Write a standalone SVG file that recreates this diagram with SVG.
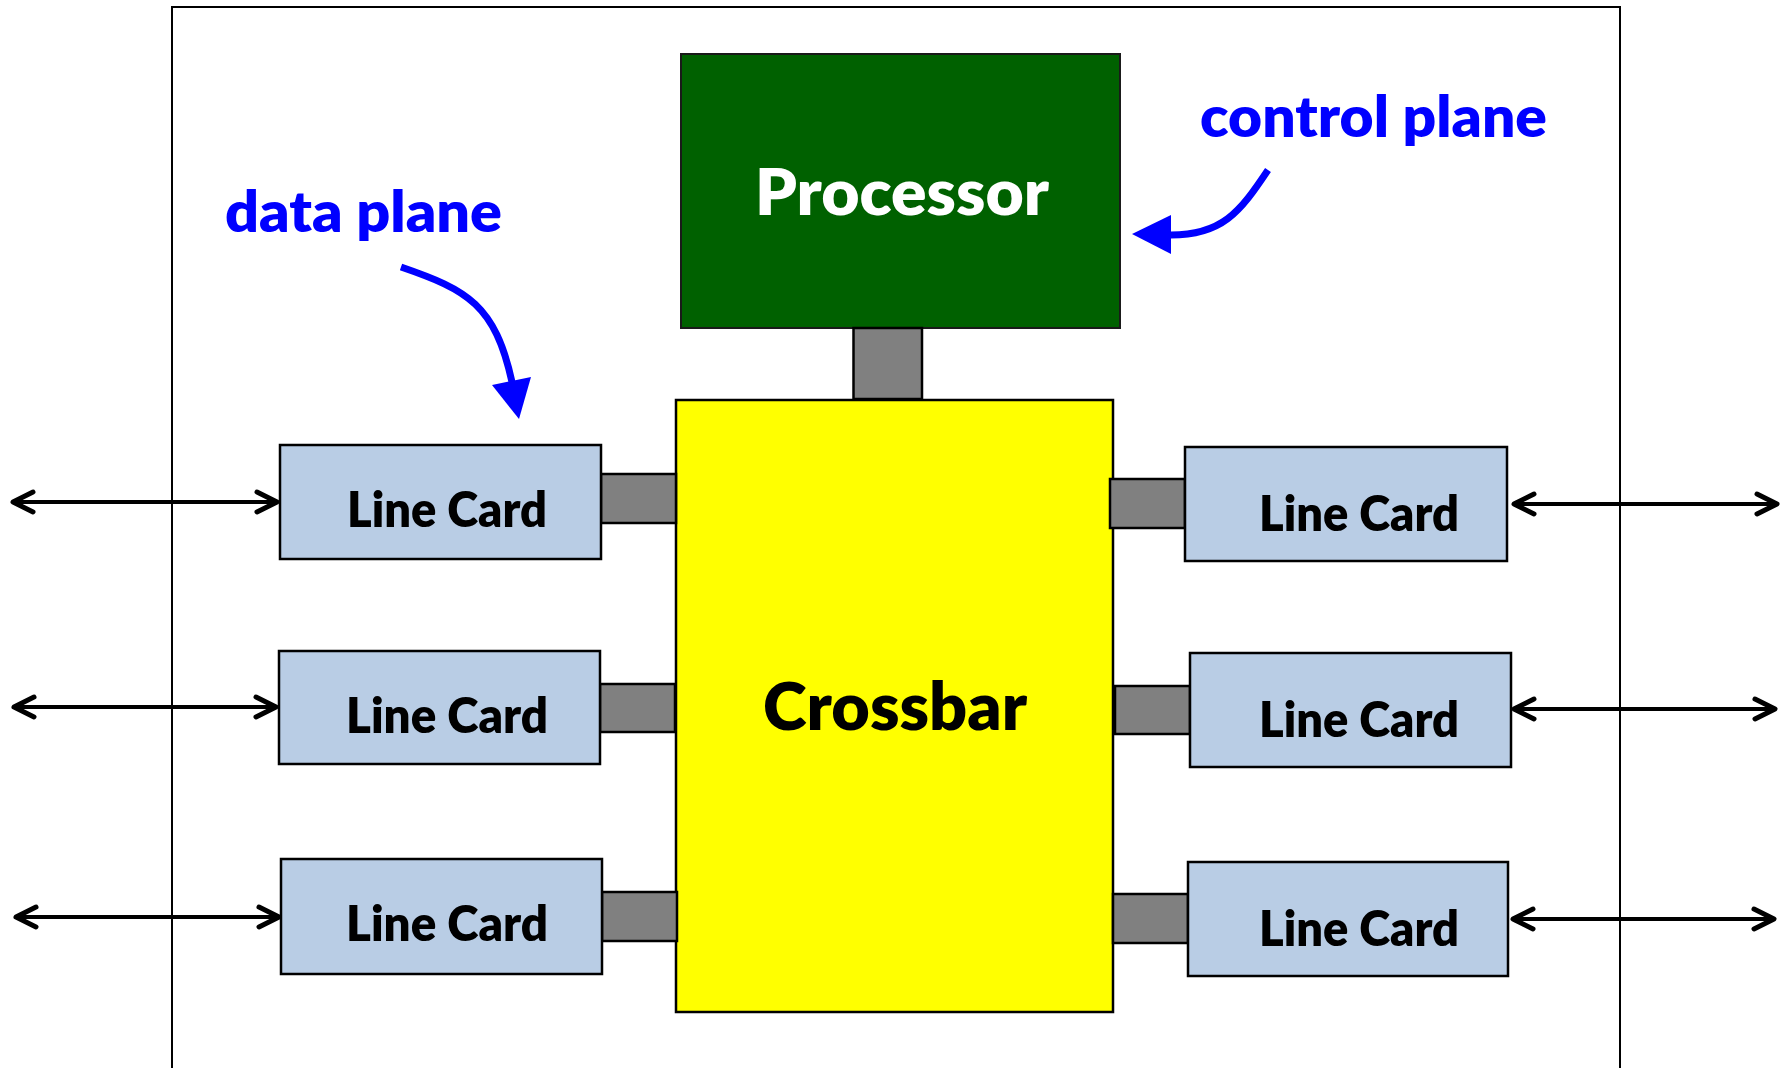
<svg xmlns="http://www.w3.org/2000/svg" width="1789" height="1068" viewBox="0 0 1789 1068">
  <style>
    .frame { fill: none; stroke: #000; stroke-width: 2; }
    .card { fill: #B9CDE5; stroke: #000; stroke-width: 2.5; }
    .link { fill: #808080; stroke: #000; stroke-width: 2.5; }
    .lbl { font-family: Lato, "Open Sans", "Liberation Sans", sans-serif; font-weight: 800; }
    .card-lbl { font-size: 50px; fill: #000; }
    .note { font-size: 57px; fill: #0000FF; }
    .port { stroke: #000; stroke-width: 4; fill: none; marker-start: url(#chev); marker-end: url(#chev); }
    .pointer { stroke: #0000FF; stroke-width: 7; fill: none; }
  </style>
  <defs>
    <marker id="chev" markerUnits="userSpaceOnUse" orient="auto-start-reverse" refX="0" refY="0" markerWidth="30" markerHeight="30" viewBox="-25 -15 30 30" overflow="visible">
      <path d="M-20,-10 L0,0 L-20,10" fill="none" stroke="#000" stroke-width="5" stroke-linecap="round" stroke-linejoin="round"/>
    </marker>
  </defs>

  <rect width="1789" height="1068" fill="#fff"/>

  <!-- router chassis outline (open at the bottom) -->
  <path class="frame" d="M172,1068 L172,7 L1620,7 L1620,1068"/>

  <!-- switching fabric -->
  <g id="crossbar">
    <rect x="676" y="400" width="437" height="612" fill="#FFFF00" stroke="#000" stroke-width="2.5"/>
    <text class="lbl" x="763" y="730" font-size="67" textLength="264" lengthAdjust="spacingAndGlyphs">Crossbar</text>
  </g>

  <!-- route processor -->
  <g id="processor">
    <rect x="681" y="54" width="439" height="274" fill="#006100" stroke="#1a1a1a" stroke-width="2"/>
    <text class="lbl" x="755" y="215" font-size="64" fill="#fff" textLength="294" lengthAdjust="spacingAndGlyphs">Processor</text>
  </g>

  <!-- bus links between modules -->
  <g id="links">
    <rect class="link" x="853.5" y="328" width="68.5" height="71"/>
    <rect class="link" x="601" y="474" width="75" height="49"/>
    <rect class="link" x="600" y="684" width="75" height="48"/>
    <rect class="link" x="602" y="892" width="75" height="49"/>
    <rect class="link" x="1110" y="479" width="75" height="49"/>
    <rect class="link" x="1115" y="686" width="75" height="48"/>
    <rect class="link" x="1113" y="894" width="75" height="49"/>
  </g>

  <!-- line cards, left side -->
  <g id="line-card-l1">
    <rect class="card" x="280" y="445" width="321" height="114"/>
    <text class="lbl card-lbl" x="347" y="527" textLength="200" lengthAdjust="spacingAndGlyphs">Line Card</text>
  </g>
  <g id="line-card-l2">
    <rect class="card" x="279" y="651" width="321" height="113"/>
    <text class="lbl card-lbl" x="346" y="733" textLength="202" lengthAdjust="spacingAndGlyphs">Line Card</text>
  </g>
  <g id="line-card-l3">
    <rect class="card" x="281" y="859" width="321" height="115"/>
    <text class="lbl card-lbl" x="346" y="941" textLength="202" lengthAdjust="spacingAndGlyphs">Line Card</text>
  </g>

  <!-- line cards, right side -->
  <g id="line-card-r1">
    <rect class="card" x="1185" y="447" width="322" height="114"/>
    <text class="lbl card-lbl" x="1259" y="531" textLength="200" lengthAdjust="spacingAndGlyphs">Line Card</text>
  </g>
  <g id="line-card-r2">
    <rect class="card" x="1190" y="653" width="321" height="114"/>
    <text class="lbl card-lbl" x="1259" y="737" textLength="200" lengthAdjust="spacingAndGlyphs">Line Card</text>
  </g>
  <g id="line-card-r3">
    <rect class="card" x="1188" y="862" width="320" height="114"/>
    <text class="lbl card-lbl" x="1259" y="946" textLength="200" lengthAdjust="spacingAndGlyphs">Line Card</text>
  </g>

  <!-- external ports (bidirectional) -->
  <g id="connectors">
    <line class="port" x1="13" y1="502" x2="277" y2="502"/>
    <line class="port" x1="14" y1="707" x2="276" y2="707"/>
    <line class="port" x1="16" y1="917" x2="279" y2="917"/>
    <line class="port" x1="1514" y1="504" x2="1777" y2="504"/>
    <line class="port" x1="1514" y1="709" x2="1775" y2="709"/>
    <line class="port" x1="1513" y1="919" x2="1774" y2="919"/>
  </g>

  <!-- plane annotations -->
  <g id="data-plane-note">
    <text class="lbl note" x="225" y="232" textLength="277" lengthAdjust="spacingAndGlyphs">data plane</text>
    <path class="pointer" d="M401,267 C468,290 495,305 512,382"/>
    <polygon points="492,385 531,377 519,419" fill="#0000FF"/>
  </g>
  <g id="control-plane-note">
    <text class="lbl note" x="1200" y="137" textLength="347" lengthAdjust="spacingAndGlyphs">control plane</text>
    <path class="pointer" d="M1268,170 C1240,212 1222,236 1168,235"/>
    <polygon points="1171,215 1171,254 1132,234" fill="#0000FF"/>
  </g>
</svg>
